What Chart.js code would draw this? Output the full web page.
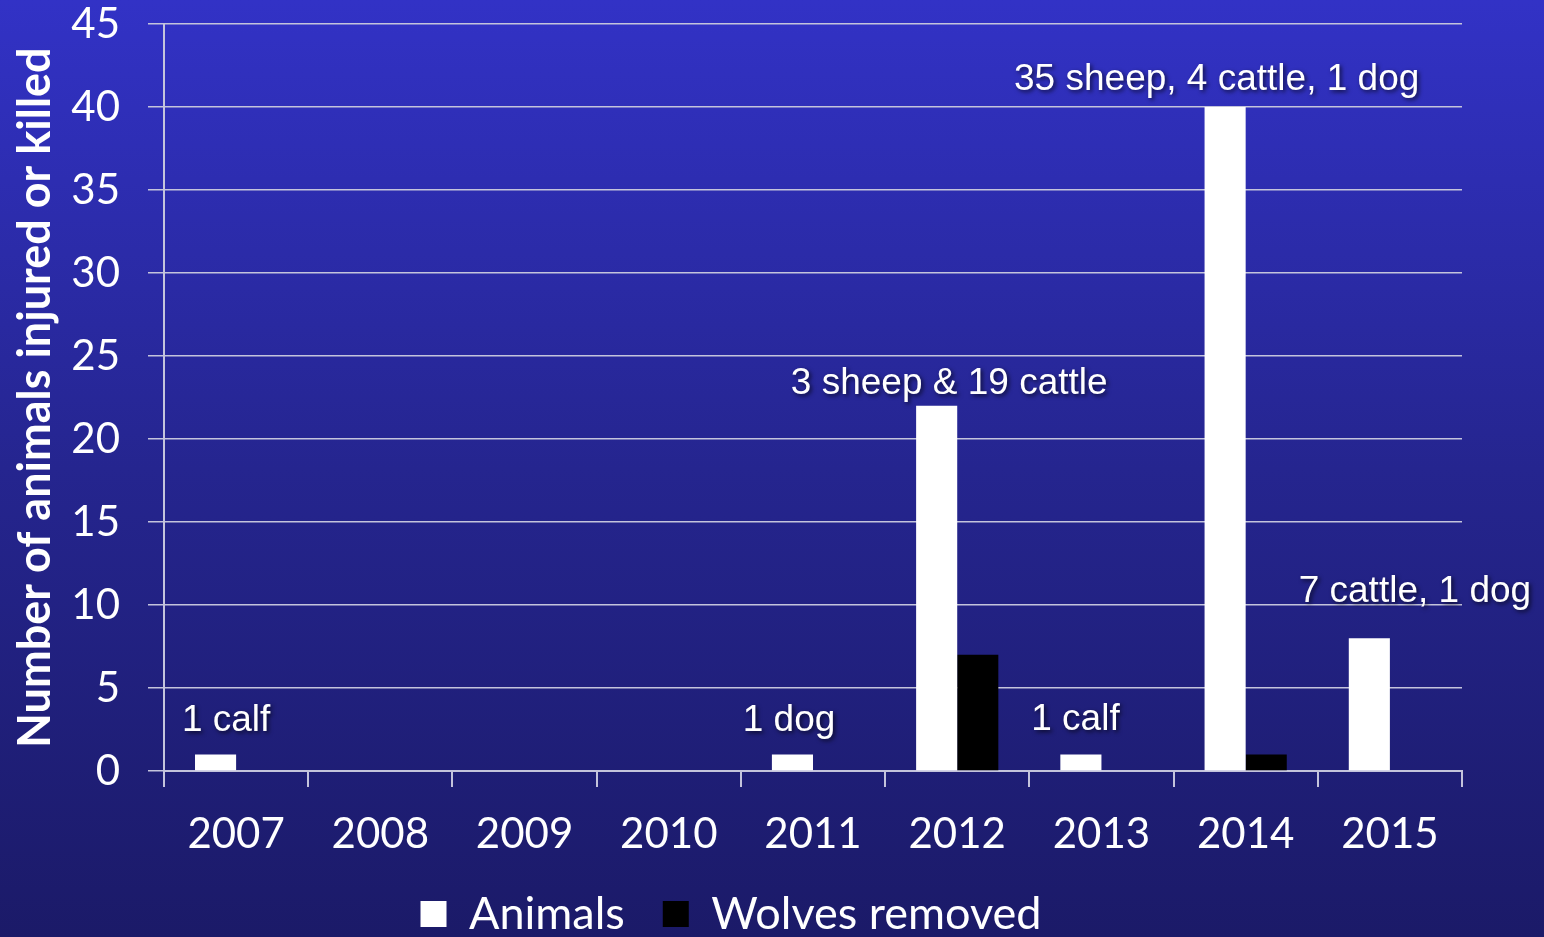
<!DOCTYPE html>
<html>
<head>
<meta charset="utf-8">
<script src="https://cdn.jsdelivr.net/npm/chart.js@4"></script>
<style>
  html, body { margin: 0; padding: 0; }
  body {
    width: 1544px; height: 937px; overflow: hidden;
    background: linear-gradient(180deg, #3232c6 0%, #25258f 50%, #1b1a68 100%);
  }
  canvas { display: block; }
</style>
</head>
<body>
<canvas id="chart" width="1544" height="937"></canvas>
<script>
const years = ['2007', '2008', '2009', '2010', '2011', '2012', '2013', '2014', '2015'];
const animals = [1, 0, 0, 0, 1, 22, 1, 40, 8];
const wolvesRemoved = [0, 0, 0, 0, 0, 7, 0, 1, 0];
const notes = ['1 calf', '', '', '', '1 dog', '3 sheep & 19 cattle', '1 calf', '35 sheep, 4 cattle, 1 dog', '7 cattle, 1 dog'];

// nudges for the note text, relative to the category centre and the bar top
const noteShift = [[-10, -23], [0, 0], [0, 0], [0, 0], [-24, -23], [-8, -12], [-26, -24], [-29, -17], [25, -36]];

const tickFont = { family: 'Lato', size: 42 };

const notesPlugin = {
  id: 'notes',
  afterDatasetsDraw(chart) {
    const ctx = chart.ctx;
    const x = chart.scales.x;
    const y = chart.scales.y;
    ctx.save();
    ctx.font = '37px "Liberation Sans", Arial, sans-serif';
    ctx.fillStyle = '#ffffff';
    ctx.textAlign = 'center';
    ctx.textBaseline = 'alphabetic';
    ctx.shadowColor = 'rgba(0,0,0,0.65)';
    ctx.shadowBlur = 4;
    ctx.shadowOffsetX = 2;
    ctx.shadowOffsetY = 2;
    notes.forEach((txt, i) => {
      if (!txt) return;
      const cx = x.getPixelForValue(i) + noteShift[i][0];
      const top = y.getPixelForValue(animals[i]) + noteShift[i][1];
      ctx.fillText(txt, cx, top);
    });
    ctx.restore();
  }
};

const chart = document.querySelector('#chart').getContext('2d');

new Chart(chart, {
  type: 'bar',
  data: {
    labels: years,
    datasets: [
      {
        label: 'Animals',
        data: animals,
        backgroundColor: '#ffffff',
        borderWidth: 0
      },
      {
        label: 'Wolves removed',
        data: wolvesRemoved,
        backgroundColor: '#000000',
        borderWidth: 0
      }
    ]
  },
  options: {
    responsive: false,
    animation: false,
    devicePixelRatio: 1,
    categoryPercentage: 0.57,
    barPercentage: 1,
    layout: { padding: { top: 24, right: 82, left: 0, bottom: -9.5 } },
    plugins: {
      tooltip: { enabled: false },
      legend: {
        position: 'bottom',
        labels: {
          color: '#ffffff',
          font: { family: 'Lato', size: 45 },
          boxWidth: 26,
          boxHeight: 26,
          padding: 38
        }
      }
    },
    scales: {
      x: {
        grid: {
          offset: true,
          drawOnChartArea: false,
          color: '#c4c4dc',
          lineWidth: 2,
          tickLength: 16
        },
        border: { color: '#c4c4dc', width: 2 },
        ticks: { color: '#ffffff', font: tickFont, padding: 22 },
        afterFit(scale) { scale.height = 82.5; }
      },
      y: {
        min: 0,
        max: 45,
        ticks: { stepSize: 5, color: '#ffffff', font: tickFont, padding: 28 },
        grid: { color: '#c4c4dc', lineWidth: 1.5, tickLength: 16 },
        border: { color: '#c4c4dc', width: 2 },
        title: {
          display: true,
          text: 'Number of animals injured or killed',
          color: '#ffffff',
          font: { family: 'Lato', size: 45, weight: 'bold' },
          padding: { top: 8, bottom: 0 }
        },
        afterFit(scale) {
          scale.width = 164;
          scale.paddingTop = 0;
          scale.paddingBottom = 0;
        }
      }
    }
  },
  plugins: [notesPlugin]
});
</script>
</body>
</html>
